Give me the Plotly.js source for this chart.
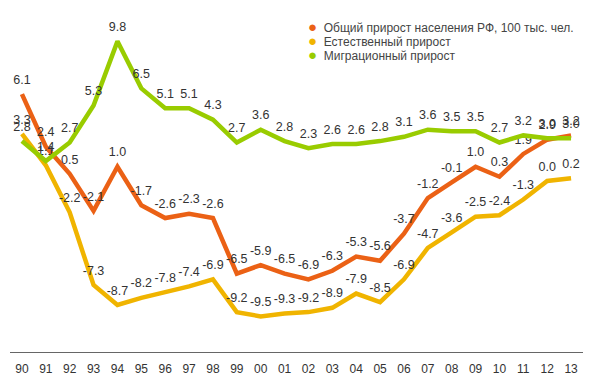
<!DOCTYPE html>
<html>
<head>
<meta charset="utf-8">
<script src="https://cdn.plot.ly/plotly-3.0.1.min.js"></script>
<style>html,body{margin:0;padding:0;background:#fff;}#chart{width:594px;height:384px;}</style>
</head>
<body>
<div id="chart"></div>
<script>
var years = ['90','91','92','93','94','95','96','97','98','99','00','01','02','03','04','05','06','07','08','09','10','11','12','13'];
var totalGrowth = [6.1, 2.4, 0.5, -2.1, 1.0, -1.7, -2.6, -2.3, -2.6, -6.5, -5.9, -6.5, -6.9, -6.3, -5.3, -5.6, -3.7, -1.2, -0.1, 1.0, 0.3, 1.9, 2.9, 3.2];
var naturalGrowth = [3.3, 1.1, -2.2, -7.3, -8.7, -8.2, -7.8, -7.4, -6.9, -9.2, -9.5, -9.3, -9.2, -8.9, -7.9, -8.5, -6.9, -4.7, -3.6, -2.5, -2.4, -1.3, 0.0, 0.2];
var migrationGrowth = [2.8, 1.4, 2.7, 5.3, 9.8, 6.5, 5.1, 5.1, 4.3, 2.7, 3.6, 2.8, 2.3, 2.6, 2.6, 2.8, 3.1, 3.6, 3.5, 3.5, 2.7, 3.2, 3.0, 3.0];
var seriesNames = ['Общий прирост населения РФ, 100 тыс. чел.', 'Естественный прирост', 'Миграционный прирост'];
var seriesColors = ['#EB6115', '#F0B400', '#99CC00'];

function fmt(v){ return v.toFixed(1); }
function mk(vals, i){
  return {
    x: years, y: vals, type: 'scatter', mode: 'lines+markers+text',
    name: seriesNames[i],
    line: {color: seriesColors[i], width: 4.5},
    marker: {size: 10, opacity: 0, color: seriesColors[i]},
    text: vals.map(fmt), textposition: 'top center',
    textfont: {family: 'Liberation Sans, Arial, sans-serif', size: 12.5, color: '#333'},
    cliponaxis: false, showlegend: false, hoverinfo: 'none'
  };
}
var data = [mk(totalGrowth,0), mk(naturalGrowth,1), mk(migrationGrowth,2)];

var legendY = [0.953, 0.912, 0.871];
var annotations = seriesNames.map(function(n, i){
  return {
    xref: 'paper', yref: 'paper', x: 0.5166, y: legendY[i],
    xanchor: 'left', yanchor: 'middle', showarrow: false,
    text: '<span style="color:' + seriesColors[i] + ';font-size:15px">●</span>&nbsp; ' + n,
    font: {family: 'Liberation Sans, Arial, sans-serif', size: 12, color: '#444'}
  };
});

var layout = {
  width: 594, height: 384,
  margin: {l: 10, r: 11, t: 10, b: 32},
  paper_bgcolor: '#fff', plot_bgcolor: '#fff',
  showlegend: false,
  font: {family: 'Liberation Sans, Arial, sans-serif', size: 12, color: '#333'},
  xaxis: {
    type: 'category', range: [-0.5, 23.5],
    showgrid: false, zeroline: false, showline: true, linecolor: '#666', linewidth: 1,
    ticks: '', tickfont: {size: 12, color: '#333'}, ticklabelstandoff: 6
  },
  yaxis: {
    range: [-12, 12], visible: false, showgrid: false, zeroline: false
  },
  annotations: annotations
};
Plotly.newPlot('chart', data, layout, {displayModeBar: false, staticPlot: true});
</script>
</body>
</html>
